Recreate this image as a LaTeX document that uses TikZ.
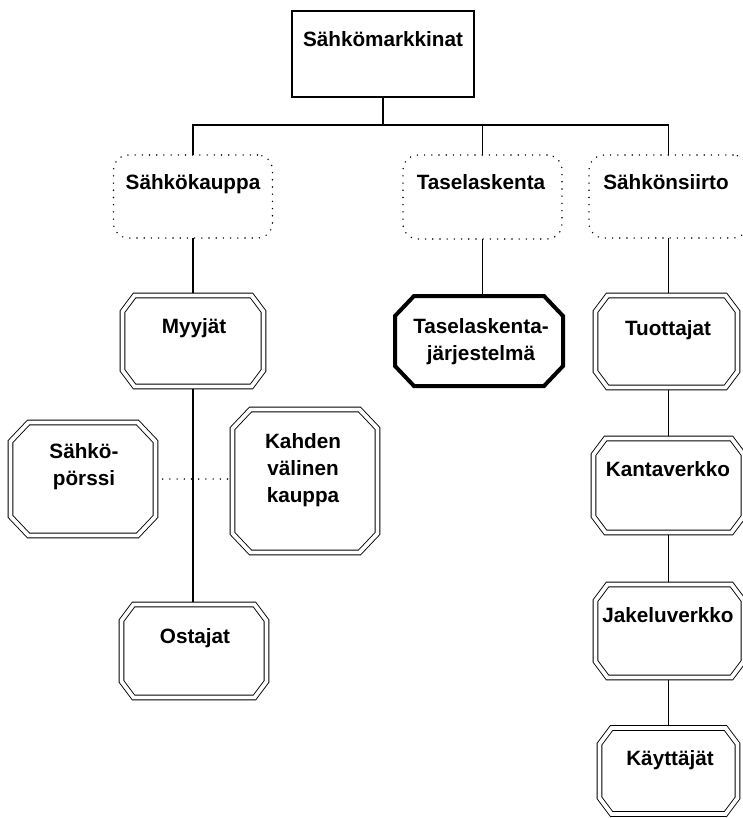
\documentclass[tikz,border=0pt]{standalone}
\usepackage{fontspec}
\setmainfont{Liberation Sans}
\usetikzlibrary{calc}

% Octagon drawn around a named rectangular node:
% #1 style, #2 node name, #3 horizontal cut, #4 vertical cut
\newcommand\octpath[4][]{%
  \draw[#1] ($(#2.north west)+(#3,0)$) -- ($(#2.north east)+(-#3,0)$)
    -- ($(#2.north east)+(0,#4)$) -- ($(#2.south east)+(0,-#4)$)
    -- ($(#2.south east)+(-#3,0)$) -- ($(#2.south west)+(#3,0)$)
    -- ($(#2.south west)+(0,-#4)$) -- ($(#2.north west)+(0,#4)$) -- cycle;}

\begin{document}
\begin{tikzpicture}[x=1pt,y=-1pt,
  every node/.style={inner sep=0pt, outer sep=0pt},
  area/.style 2 args={rectangle, minimum width=#1pt, minimum height=#2pt},
  link/.style={line width=1.1pt},
  dotlink/.style={line width=1.6pt, line cap=round, dash pattern=on 0pt off 7.2pt},
  cloud/.style={draw, line width=1.6pt, line cap=round, dash pattern=on 0pt off 7.2pt, rounded corners=15pt},
  plainbox/.style={draw, line width=1.2pt},
  twin/.style={line width=0.9pt, double, double distance=3.8pt},
  heavy/.style={line width=4pt},
  label/.style={font=\fontsize{20.7}{27}\selectfont\bfseries, anchor=base}]

\fill[white] (0,0) rectangle (742,818);
\useasboundingbox (0,0) rectangle (742,818);

% box outlines (text is placed separately, near the top of each box)
\node[plainbox, area={182}{86}] (top) at (383,54) {};
\node[cloud, area={159}{83}] (kauppa) at (193,196.5) {};
\node[cloud, area={159}{84}] (tase) at (482.5,197) {};
\node[cloud, area={159}{83}] (siirto) at (668.5,196.5) {};

\node[area={141}{91}] (myyjat) at (193,341) {};
\node[area={168}{90}] (tasesys) at (479,341) {};
\node[area={142}{92}] (tuottajat) at (666.5,341.5) {};
\node[area={145}{113}] (porssi) at (83,479) {};
\node[area={145}{143}] (kahden) at (305,481) {};
\node[area={145}{93}] (ostajat) at (194,651) {};
\node[area={150}{94}] (kanta) at (668.5,485.5) {};
\node[area={148}{93}] (jakelu) at (669.5,631) {};
\node[area={138}{86}] (kayttajat) at (668.5,771) {};

\coordinate (bus) at (383,125);

% connectors
\draw[link] (top.south) -- (bus);
\draw[link] (kauppa.north) -- (kauppa.north |- bus) -- (siirto.north |- bus) -- (siirto.north);
\draw[link] (tase.north) -- (tase.north |- bus);
\draw[link] (kauppa.south) -- (kauppa.south |- myyjat.north);
\draw[link] (kauppa.south |- myyjat.south) -- (kauppa.south |- ostajat.north);
\draw[dotlink] (porssi.east) -- (porssi.east -| kahden.west);
\draw[link] (tase.south) -- (tase.south |- tasesys.north);
\draw[link] (siirto.south) -- (siirto.south |- tuottajat.north);
\draw[link] (siirto.south |- tuottajat.south) -- (siirto.south |- kanta.north);
\draw[link] (siirto.south |- kanta.south) -- (siirto.south |- jakelu.north);
\draw[link] (siirto.south |- jakelu.south) -- (siirto.south |- kayttajat.north);

% octagonal frames
\octpath[twin]{myyjat}{12}{16}
\octpath[heavy]{tasesys}{19}{20}
\octpath[twin]{tuottajat}{12}{16}
\octpath[twin]{porssi}{18}{19}
\octpath[twin]{kahden}{18}{19}
\octpath[twin]{ostajat}{12}{16}
\octpath[twin]{kanta}{12}{16}
\octpath[twin]{jakelu}{12}{16}
\octpath[twin]{kayttajat}{12}{16}

% texts
\node[label] (top-t) at (383,47) {Sähkömarkkinat};
\node[label] (kauppa-t) at (193,190) {Sähkökauppa};
\node[label] (tase-t) at (481,190) {Taselaskenta};
\node[label] (siirto-t) at (666,190) {Sähkönsiirto};
\node[label] (myyjat-t) at (194,333) {Myyjät};
\node[label] (tasesys-t) at (481,333) {\begin{tabular}[t]{@{}c@{}}Taselaskenta-\\järjestelmä\end{tabular}};
\node[label] (tuottajat-t) at (668,335) {Tuottajat};
\node[label] (porssi-t) at (84,458) {\begin{tabular}[t]{@{}c@{}}Sähkö-\\pörssi\end{tabular}};
\node[label] (kahden-t) at (303,448) {\begin{tabular}[t]{@{}c@{}}Kahden\\välinen\\kauppa\end{tabular}};
\node[label] (ostajat-t) at (195,643) {Ostajat};
\node[label] (kanta-t) at (668,476) {Kantaverkko};
\node[label] (jakelu-t) at (668,622) {Jakeluverkko};
\node[label] (kayttajat-t) at (670,765) {Käyttäjät};
\end{tikzpicture}
\end{document}
